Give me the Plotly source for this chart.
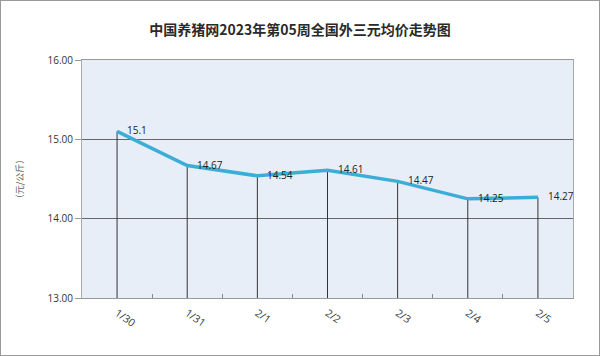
import plotly.graph_objects as go

dates = ["1/30", "1/31", "2/1", "2/2", "2/3", "2/4", "2/5"]
prices = [15.1, 14.67, 14.54, 14.61, 14.47, 14.25, 14.27]
y_ticks = [13, 14, 15, 16]
y_tick_labels = ["13.00", "14.00", "15.00", "16.00"]
title = "中国养猪网2023年第05周全国外三元均价走势图"
y_title = "（元/公斤）"
y_min = 13

fig = go.Figure()
fig.add_trace(go.Scatter(
    x=dates, y=prices, mode="lines",
    line=dict(color="#3aaed6", width=3.5),
    error_y=dict(type="data", symmetric=False,
                 array=[0] * len(prices),
                 arrayminus=[p - y_min for p in prices],
                 color="#333", thickness=1, width=0),
    showlegend=False,
    hoverinfo="skip",
))

for d, p in zip(dates, prices):
    fig.add_annotation(x=d, y=p, text=f"{p:g}", showarrow=False,
                       xanchor="left", yanchor="middle", xshift=8, yshift=1,
                       font=dict(family="Open Sans, sans-serif", size=10, color="#222"))

fig.update_layout(
    width=600, height=356,
    margin=dict(l=82, r=27, t=60, b=58),
    paper_bgcolor="white",
    plot_bgcolor="#e8eef7",
    title=dict(text=title, x=0.5, xanchor="center", y=0.915, yanchor="middle",
               font=dict(family="Noto Sans CJK SC", size=14, color="#2a2a2a", weight="bold")),
    xaxis=dict(
        type="category", range=[-0.5, 6.5],
        showgrid=False, tickson="boundaries", ticks="inside", ticklen=4,
        tickcolor="#888", showline=True, linecolor="#999", linewidth=1,
        mirror=True,
        tickangle=35, ticklabelstandoff=4,
        tickfont=dict(family="Open Sans, sans-serif", size=10.5, color="#333"),
    ),
    yaxis=dict(
        range=[13, 16], tickvals=y_ticks, ticktext=y_tick_labels,
        showgrid=True, gridcolor="#666", gridwidth=1,
        showline=True, linecolor="#aaa", linewidth=1, mirror=True,
        zeroline=False, ticks="outside", ticklen=6, tickcolor="#999",
        tickfont=dict(family="Open Sans, sans-serif", size=10, color="#333"),
        title=dict(text=y_title, standoff=22,
                   font=dict(family="Noto Sans CJK SC", size=9, color="#666")),
    ),
    shapes=[dict(type="rect", xref="paper", yref="paper",
                 x0=-82/491, x1=1 + 27/491, y0=-58/238, y1=1 + 60/238,
                 line=dict(color="#999", width=2), layer="above")],
)

fig.write_html("out.html", config={"displayModeBar": False},
               post_script="document.body.style.margin='0';")
